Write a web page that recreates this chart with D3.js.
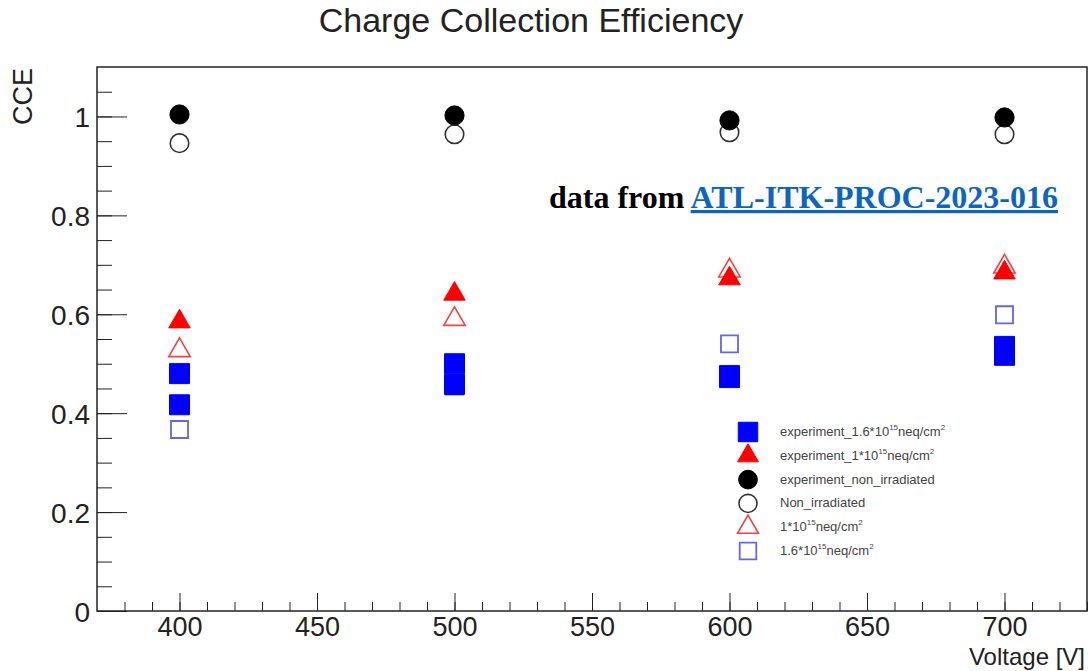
<!DOCTYPE html>
<html>
<head>
<meta charset="utf-8">
<title>Charge Collection Efficiency</title>
<script src="https://d3js.org/d3.v7.min.js"></script>
<style>
  body { margin: 0; background: #fff; }
  svg { font-family: "Liberation Sans", Arial, sans-serif; }
  .axis path, .axis line { stroke: #222; }
  .axis text { font-size: 28px; fill: #222; }
  .xaxis text { font-size: 27px; }
</style>
</head>
<body>
<script>
// voltages and measured / simulated CCE values
var voltages = [400, 500, 600, 700];

var exp16 = [ // experiment 1.6e15 (two samples per voltage)
  {v: 400, cce: 0.480}, {v: 400, cce: 0.417},
  {v: 500, cce: 0.500}, {v: 500, cce: 0.458},
  {v: 600, cce: 0.476}, {v: 600, cce: 0.472},
  {v: 700, cce: 0.535}, {v: 700, cce: 0.517}
];
var exp1 = [0.585, 0.641, 0.672, 0.684];
var expNonIrr = [1.004, 1.002, 0.992, 0.998];
var simNonIrr = [0.946, 0.964, 0.968, 0.964];
var sim1 = [0.527, 0.590, 0.688, 0.696];
var sim16 = [0.367, 0.455, 0.540, 0.599];

var xTicks = [400, 450, 500, 550, 600, 650, 700];
var yTicks = [0, 0.2, 0.4, 0.6, 0.8, 1];

var W = 1089, H = 671;
var frame = {left: 97, right: 1087, top: 67, bottom: 611};

var x = d3.scaleLinear().domain([370, 730]).range([frame.left, frame.right]);
var y = d3.scaleLinear().domain([0, 1.1]).range([frame.bottom, frame.top]);

var svg = d3.select("body").append("svg")
    .attr("width", W).attr("height", H);

// frame
svg.append("rect")
    .attr("x", frame.left).attr("y", frame.top)
    .attr("width", frame.right - frame.left)
    .attr("height", frame.bottom - frame.top)
    .attr("fill", "none").attr("stroke", "#222").attr("stroke-width", 1.5);

// x axis: minor then major ticks pointing inward
svg.append("g").attr("class", "axis")
    .attr("transform", "translate(0," + frame.bottom + ")")
    .call(d3.axisBottom(x).tickValues(d3.range(380, 731, 10)).tickSize(-9).tickFormat(""))
    .call(g => g.select(".domain").remove());
svg.append("g").attr("class", "axis xaxis")
    .attr("transform", "translate(0," + frame.bottom + ")")
    .call(d3.axisBottom(x).tickValues(xTicks).tickSize(-18).tickPadding(6).tickFormat(d3.format("d")))
    .call(g => g.select(".domain").remove());

// y axis
svg.append("g").attr("class", "axis")
    .attr("transform", "translate(" + frame.left + ",0)")
    .call(d3.axisLeft(y).tickValues(d3.range(0.05, 1.1, 0.05)).tickSize(-15).tickFormat(""))
    .call(g => g.select(".domain").remove());
svg.append("g").attr("class", "axis")
    .attr("transform", "translate(" + frame.left + ",0)")
    .call(d3.axisLeft(y).tickValues(yTicks).tickSize(-30).tickFormat(d3.format("~g")))
    .call(g => g.select(".domain").remove())
    .call(g => g.selectAll("text").attr("x", -7).attr("dy", "0.36em"));

// titles
svg.append("text").attr("x", 531).attr("y", 32)
    .attr("text-anchor", "middle").attr("font-size", 34).attr("fill", "#222")
    .text("Charge Collection Efficiency");
svg.append("text")
    .attr("transform", "translate(32,68) rotate(-90)")
    .attr("text-anchor", "end").attr("font-size", 27).attr("fill", "#222")
    .text("CCE");
svg.append("text").attr("x", 1085).attr("y", 665)
    .attr("text-anchor", "end").attr("font-size", 24).attr("fill", "#222")
    .text("Voltage [V]");

// annotation
var note = svg.append("text").attr("x", 1058).attr("y", 208)
    .attr("text-anchor", "end")
    .attr("font-family", "'Liberation Serif', 'Times New Roman', serif")
    .attr("font-weight", "bold").attr("font-size", 32);
note.append("tspan").attr("fill", "#000").text("data from ");
note.append("tspan").attr("fill", "#0b66c3").attr("text-decoration", "underline")
    .text("ATL-ITK-PROC-2023-016");

// marker styles
var styles = {
  exp16:     {type: d3.symbolSquare,   size: 400, fill: "#0000ff", stroke: "#0000ff", sw: 1},
  exp1:      {type: d3.symbolTriangle, size: 200, fill: "#ff0000", stroke: "#ff0000", sw: 1},
  expNonIrr: {type: d3.symbolCircle,   size: 290, fill: "#000",    stroke: "#000",    sw: 1},
  simNonIrr: {type: d3.symbolCircle,   size: 270, fill: "none",    stroke: "#333",    sw: 1.6},
  sim1:      {type: d3.symbolTriangle, size: 200, fill: "none",    stroke: "#ee4444", sw: 1.6},
  sim16:     {type: d3.symbolSquare,   size: 290, fill: "none",    stroke: "#6464ee", sw: 1.8}
};

function markers(key, data) {
  var s = styles[key];
  svg.append("g").selectAll("path")
    .data(data)
    .join("path")
      .attr("transform", d => "translate(" + x(d.v) + "," + y(d.cce) + ")")
      .attr("d", d3.symbol().type(s.type).size(s.size))
      .attr("fill", s.fill).attr("stroke", s.stroke).attr("stroke-width", s.sw);
}
function pair(vals) { return voltages.map((v, i) => ({v: v, cce: vals[i]})); }

markers("sim16", pair(sim16));
markers("exp16", exp16);
markers("sim1", pair(sim1));
markers("exp1", pair(exp1));
markers("simNonIrr", pair(simNonIrr));
markers("expNonIrr", pair(expNonIrr));

// legend
var legendItems = [
  {key: "exp16", parts: ["experiment_1.6*10", "15", "neq/cm", "2"]},
  {key: "exp1", parts: ["experiment_1*10", "15", "neq/cm", "2"]},
  {key: "expNonIrr", parts: ["experiment_non_irradiated"]},
  {key: "simNonIrr", parts: ["Non_irradiated"]},
  {key: "sim1", parts: ["1*10", "15", "neq/cm", "2"]},
  {key: "sim16", parts: ["1.6*10", "15", "neq/cm", "2"]}
];
var lg = svg.append("g").attr("transform", "translate(748,432)");
legendItems.forEach(function(it, i) {
  var s = styles[it.key];
  var row = lg.append("g").attr("transform", "translate(0," + i * 23.8 + ")");
  row.append("path")
    .attr("d", d3.symbol().type(s.type).size(s.size * 0.95))
    .attr("fill", s.fill).attr("stroke", s.stroke).attr("stroke-width", s.sw);
  var t = row.append("text").attr("x", 32).attr("y", 4)
      .attr("font-size", 13).attr("fill", "#444");
  it.parts.forEach(function(p, j) {
    var sup = j % 2 === 1;
    t.append("tspan")
      .attr("font-size", sup ? 8 : 13)
      .attr("dy", sup ? -6 : (j > 0 ? 6 : 0))
      .text(p);
  });
});
</script>
</body>
</html>
